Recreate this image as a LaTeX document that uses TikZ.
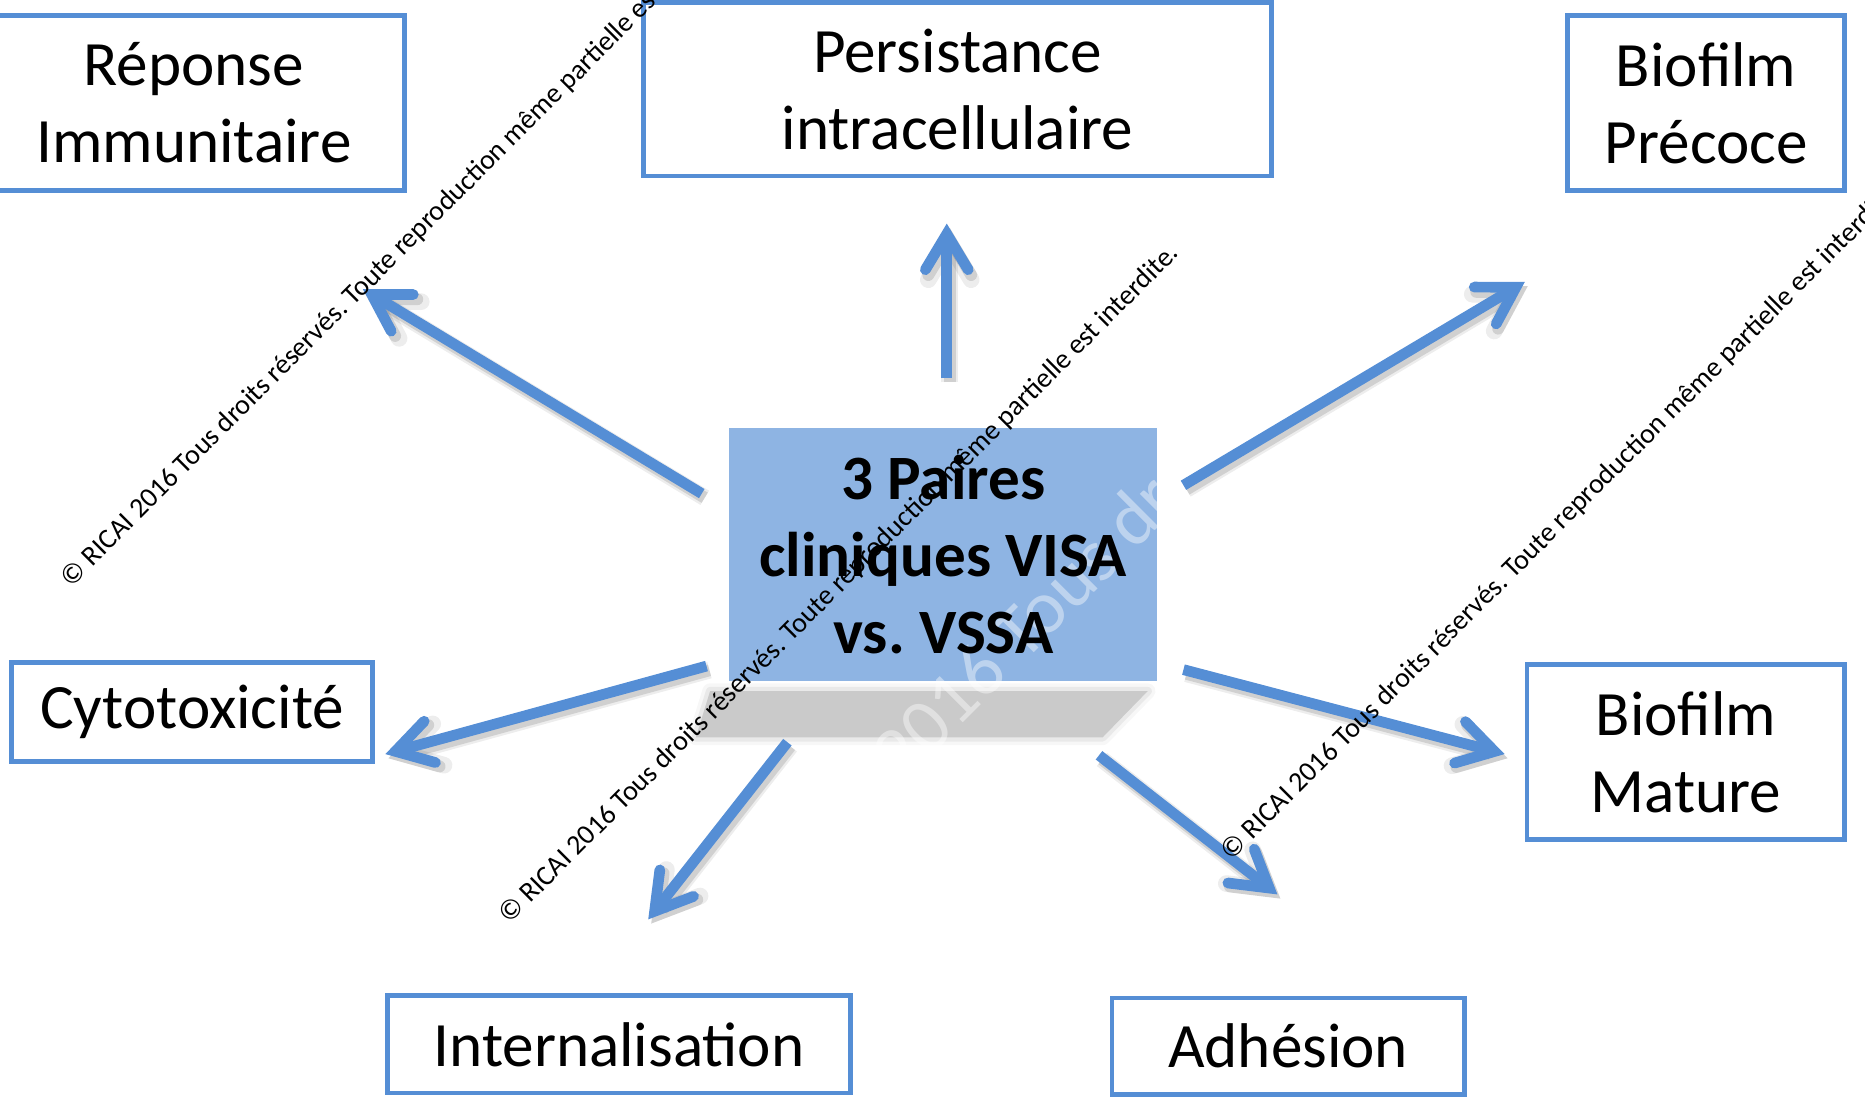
\documentclass[tikz,border=0pt]{standalone}
\usepackage{fontspec}
\setmainfont{Carlito}
\usetikzlibrary{arrows.meta}
\definecolor{boxblue}{HTML}{558ED5}
\definecolor{arrblue}{HTML}{558ED5}
\definecolor{centerfill}{HTML}{8EB4E3}
\definecolor{shadowgray}{HTML}{CACACA}
\pgfdeclarelayer{bg}
\pgfsetlayers{bg,main}
\newcommand{\wmtext}{© RICAI 2016 Tous droits réservés. Toute reproduction même partielle est interdite.}
\frenchspacing
\begin{document}
\begin{tikzpicture}[x=0.01cm, y=-0.01cm,
  lbl/.style={draw=boxblue, line width=0.04cm, inner sep=0pt, align=center,
    font=\fontsize{15.1}{18.4}\selectfont},
  arrtip/.style={-{Straight Barb[length=0.3cm, width=0.36cm, line cap=round, line join=miter]}},
  arr/.style={draw=arrblue, line width=0.09cm, arrtip},
  arrsh/.style={draw=black, draw opacity=#1, line width=0.1cm, arrtip,
    transform canvas={shift={(0.025cm,-0.035cm)}}},
  wm/.style={rotate=45, anchor=base west, inner sep=0pt, font=\fontsize{6.7}{8}\selectfont}
]
\useasboundingbox (0,0) rectangle (1568,927);
\clip (0,0) rectangle (1568,927);

% center node
\node[inner sep=0pt, minimum width=3.58cm, minimum height=2.11cm, align=center,
  font=\bfseries\fontsize{15.1}{18.4}\selectfont] (ctr) at (793,466.5)
  {3 Paires\\cliniques VISA\\vs. VSSA};

\begin{pgfonlayer}{bg}
  % soft shadow under the center box
  \draw[shadowgray, line width=0.13cm, draw opacity=0.15, line join=round]
    (597,581) -- (965,581) -- (927,620) -- (585,620) -- cycle;
  \draw[shadowgray, line width=0.07cm, draw opacity=0.3, line join=round]
    (597,581) -- (965,581) -- (927,620) -- (585,620) -- cycle;
  \fill[shadowgray] (597,581) -- (965,581) -- (927,620) -- (585,620) -- cycle;
  \fill[centerfill] (ctr.north west) rectangle (ctr.south east);
  \node[wm, font=\fontsize{18.2}{22}\selectfont, text=white, text opacity=0.42] (wmw) at (602,816) {\wmtext};
\end{pgfonlayer}

% outer boxes
\node[lbl, minimum width=3.54cm, minimum height=1.47cm] (rep) at (163,86.5) {Réponse\\Immunitaire};
\node[lbl, minimum width=5.28cm, minimum height=1.46cm] (per) at (805,75) {Persistance\\intracellulaire};
\node[lbl, minimum width=2.33cm, minimum height=1.47cm] (bpr) at (1434.5,86.5) {Biofilm\\Précoce};
\node[lbl, minimum width=3.03cm, minimum height=0.83cm] (cyt) at (161.5,598.5) {Cytotoxicité};
\node[lbl, minimum width=2.67cm, minimum height=1.47cm] (bma) at (1417.5,632.5) {Biofilm\\Mature};
\node[lbl, minimum width=3.89cm, minimum height=0.82cm] (int) at (520.5,878) {Internalisation};
\node[lbl, minimum width=2.96cm, minimum height=0.81cm] (adh) at (1083,879.5) {Adhésion};

% arrow ends
\coordinate (nwS) at (590,415);  \coordinate (nwE) at (305,243);
\coordinate (nS)  at (796,318);  \coordinate (nE)  at (796,188);
\coordinate (neS) at (995,408);  \coordinate (neE) at (1282,237);
\coordinate (wS)  at (594,560);  \coordinate (wE)  at (324,634);
\coordinate (swS) at (662,624);  \coordinate (swE) at (545,773);
\coordinate (seS) at (924,635);  \coordinate (seE) at (1074,752);
\coordinate (eS)  at (995,563);  \coordinate (eE)  at (1265,634);

\foreach \a/\b in {nwS/nwE, nS/nE, neS/neE, wS/wE, swS/swE, seS/seE, eS/eE}{
  \draw[arrsh=0.07, line width=0.14cm] (\a) -- (\b);
  \draw[arrsh=0.12] (\a) -- (\b);
}
\foreach \a/\b in {nwS/nwE, nS/nE, neS/neE, wS/wE, swS/swE, seS/seE, eS/eE}{
  \draw[arr] (\a) -- (\b);
}

% watermarks
\node[wm] (wm1) at (60,495) {\wmtext};
\node[wm] (wm2) at (428,778) {\wmtext};
\node[wm] (wm3) at (1035,725) {\wmtext};
\end{tikzpicture}
\end{document}
